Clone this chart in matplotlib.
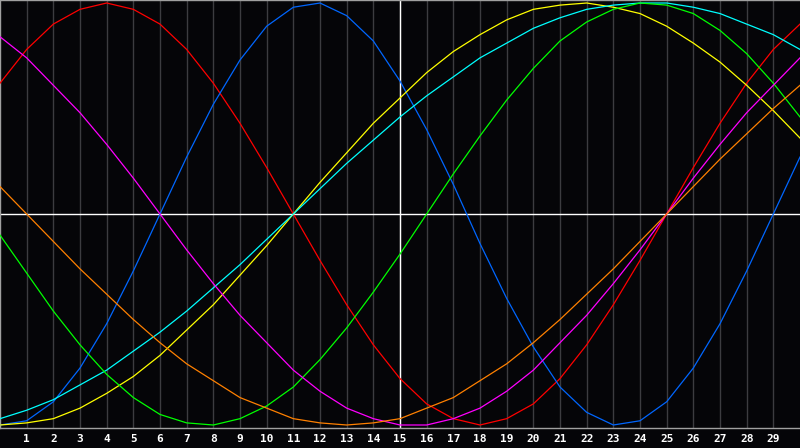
import matplotlib
matplotlib.use('Agg')
import matplotlib.pyplot as plt

# days along the bottom axis (0..30), labels 1..29
days = list(range(31))
tick_days = list(range(1, 30))
tick_labels = [str(d) for d in tick_days]

# curve values, one per day
red = [0.62, 0.78, 0.90, 0.97, 1.00, 0.97, 0.90, 0.78, 0.62, 0.43, 0.22, 0.00,
       -0.22, -0.43, -0.62, -0.78, -0.90, -0.97, -1.00, -0.97, -0.90, -0.78,
       -0.62, -0.43, -0.22, 0.00, 0.22, 0.43, 0.62, 0.78, 0.90]
blue = [-1.00, -0.98, -0.89, -0.73, -0.52, -0.27, 0.00, 0.27, 0.52, 0.73, 0.89,
        0.98, 1.00, 0.94, 0.82, 0.63, 0.40, 0.14, -0.14, -0.40, -0.63, -0.82,
        -0.94, -1.00, -0.98, -0.89, -0.73, -0.52, -0.27, 0.00, 0.27]
yellow = [-1.00, -0.99, -0.97, -0.92, -0.85, -0.77, -0.67, -0.55, -0.43, -0.29,
          -0.15, 0.00, 0.15, 0.29, 0.43, 0.55, 0.67, 0.77, 0.85, 0.92, 0.97,
          0.99, 1.00, 0.98, 0.95, 0.89, 0.81, 0.72, 0.61, 0.49, 0.36]
cyan = [-0.97, -0.93, -0.88, -0.81, -0.74, -0.65, -0.56, -0.46, -0.35, -0.24,
        -0.12, 0.00, 0.12, 0.24, 0.35, 0.46, 0.56, 0.65, 0.74, 0.81, 0.88,
        0.93, 0.97, 0.99, 1.00, 1.00, 0.98, 0.95, 0.90, 0.85, 0.78]
green = [-0.10, -0.28, -0.46, -0.62, -0.76, -0.87, -0.95, -0.99, -1.00, -0.97,
         -0.91, -0.82, -0.69, -0.54, -0.37, -0.19, 0.00, 0.19, 0.37, 0.54,
         0.69, 0.82, 0.91, 0.97, 1.00, 0.99, 0.95, 0.87, 0.76, 0.62, 0.46]
magenta = [0.84, 0.74, 0.61, 0.48, 0.33, 0.17, 0.00, -0.17, -0.33, -0.48, -0.61,
           -0.74, -0.84, -0.92, -0.97, -1.00, -1.00, -0.97, -0.92, -0.84, -0.74,
           -0.61, -0.48, -0.33, -0.17, 0.00, 0.17, 0.33, 0.48, 0.61, 0.74]
orange = [0.13, 0.00, -0.13, -0.26, -0.38, -0.50, -0.61, -0.71, -0.79, -0.87,
          -0.92, -0.97, -0.99, -1.00, -0.99, -0.97, -0.92, -0.87, -0.79, -0.71,
          -0.61, -0.50, -0.38, -0.26, -0.13, 0.00, 0.13, 0.26, 0.38, 0.50, 0.61]

series = [red, blue, yellow, cyan, green, magenta, orange]
colours = ['#ff0000', '#0066ff', '#ffff00', '#00ffff', '#00ff00', '#ff00ff', '#ff8000']

bg = '#050508'
fig = plt.figure(figsize=(8, 4.48), dpi=100, facecolor=bg)
ax = fig.add_axes([0, 20 / 448, 1, 428 / 448], facecolor=bg)

ax.set_xlim(0, 30)
ax.set_ylim(-214 / 211, 214 / 211)

# vertical day grid
for d in tick_days:
    ax.axvline(d, color='#3c3c40', lw=1.0, zorder=1)
ax.axvline(15, color='white', lw=1.0, zorder=2)
ax.axhline(0, color='white', lw=1.0, zorder=2)

for vals, c in zip(series, colours):
    ax.plot(days, vals, color=c, lw=0.9, zorder=3)

ax.set_xticks(tick_days)
ax.set_xticklabels(tick_labels, color='white', fontsize=8, fontweight='bold',
                   family='DejaVu Sans Mono')
ax.tick_params(axis='x', length=0, pad=4)
ax.set_yticks([])

for s in ['top', 'left', 'bottom']:
    ax.spines[s].set_color('#a0a0a0')
    ax.spines[s].set_linewidth(1.0)
ax.spines['right'].set_visible(False)

fig.savefig('out.png', dpi=100, facecolor=bg)
